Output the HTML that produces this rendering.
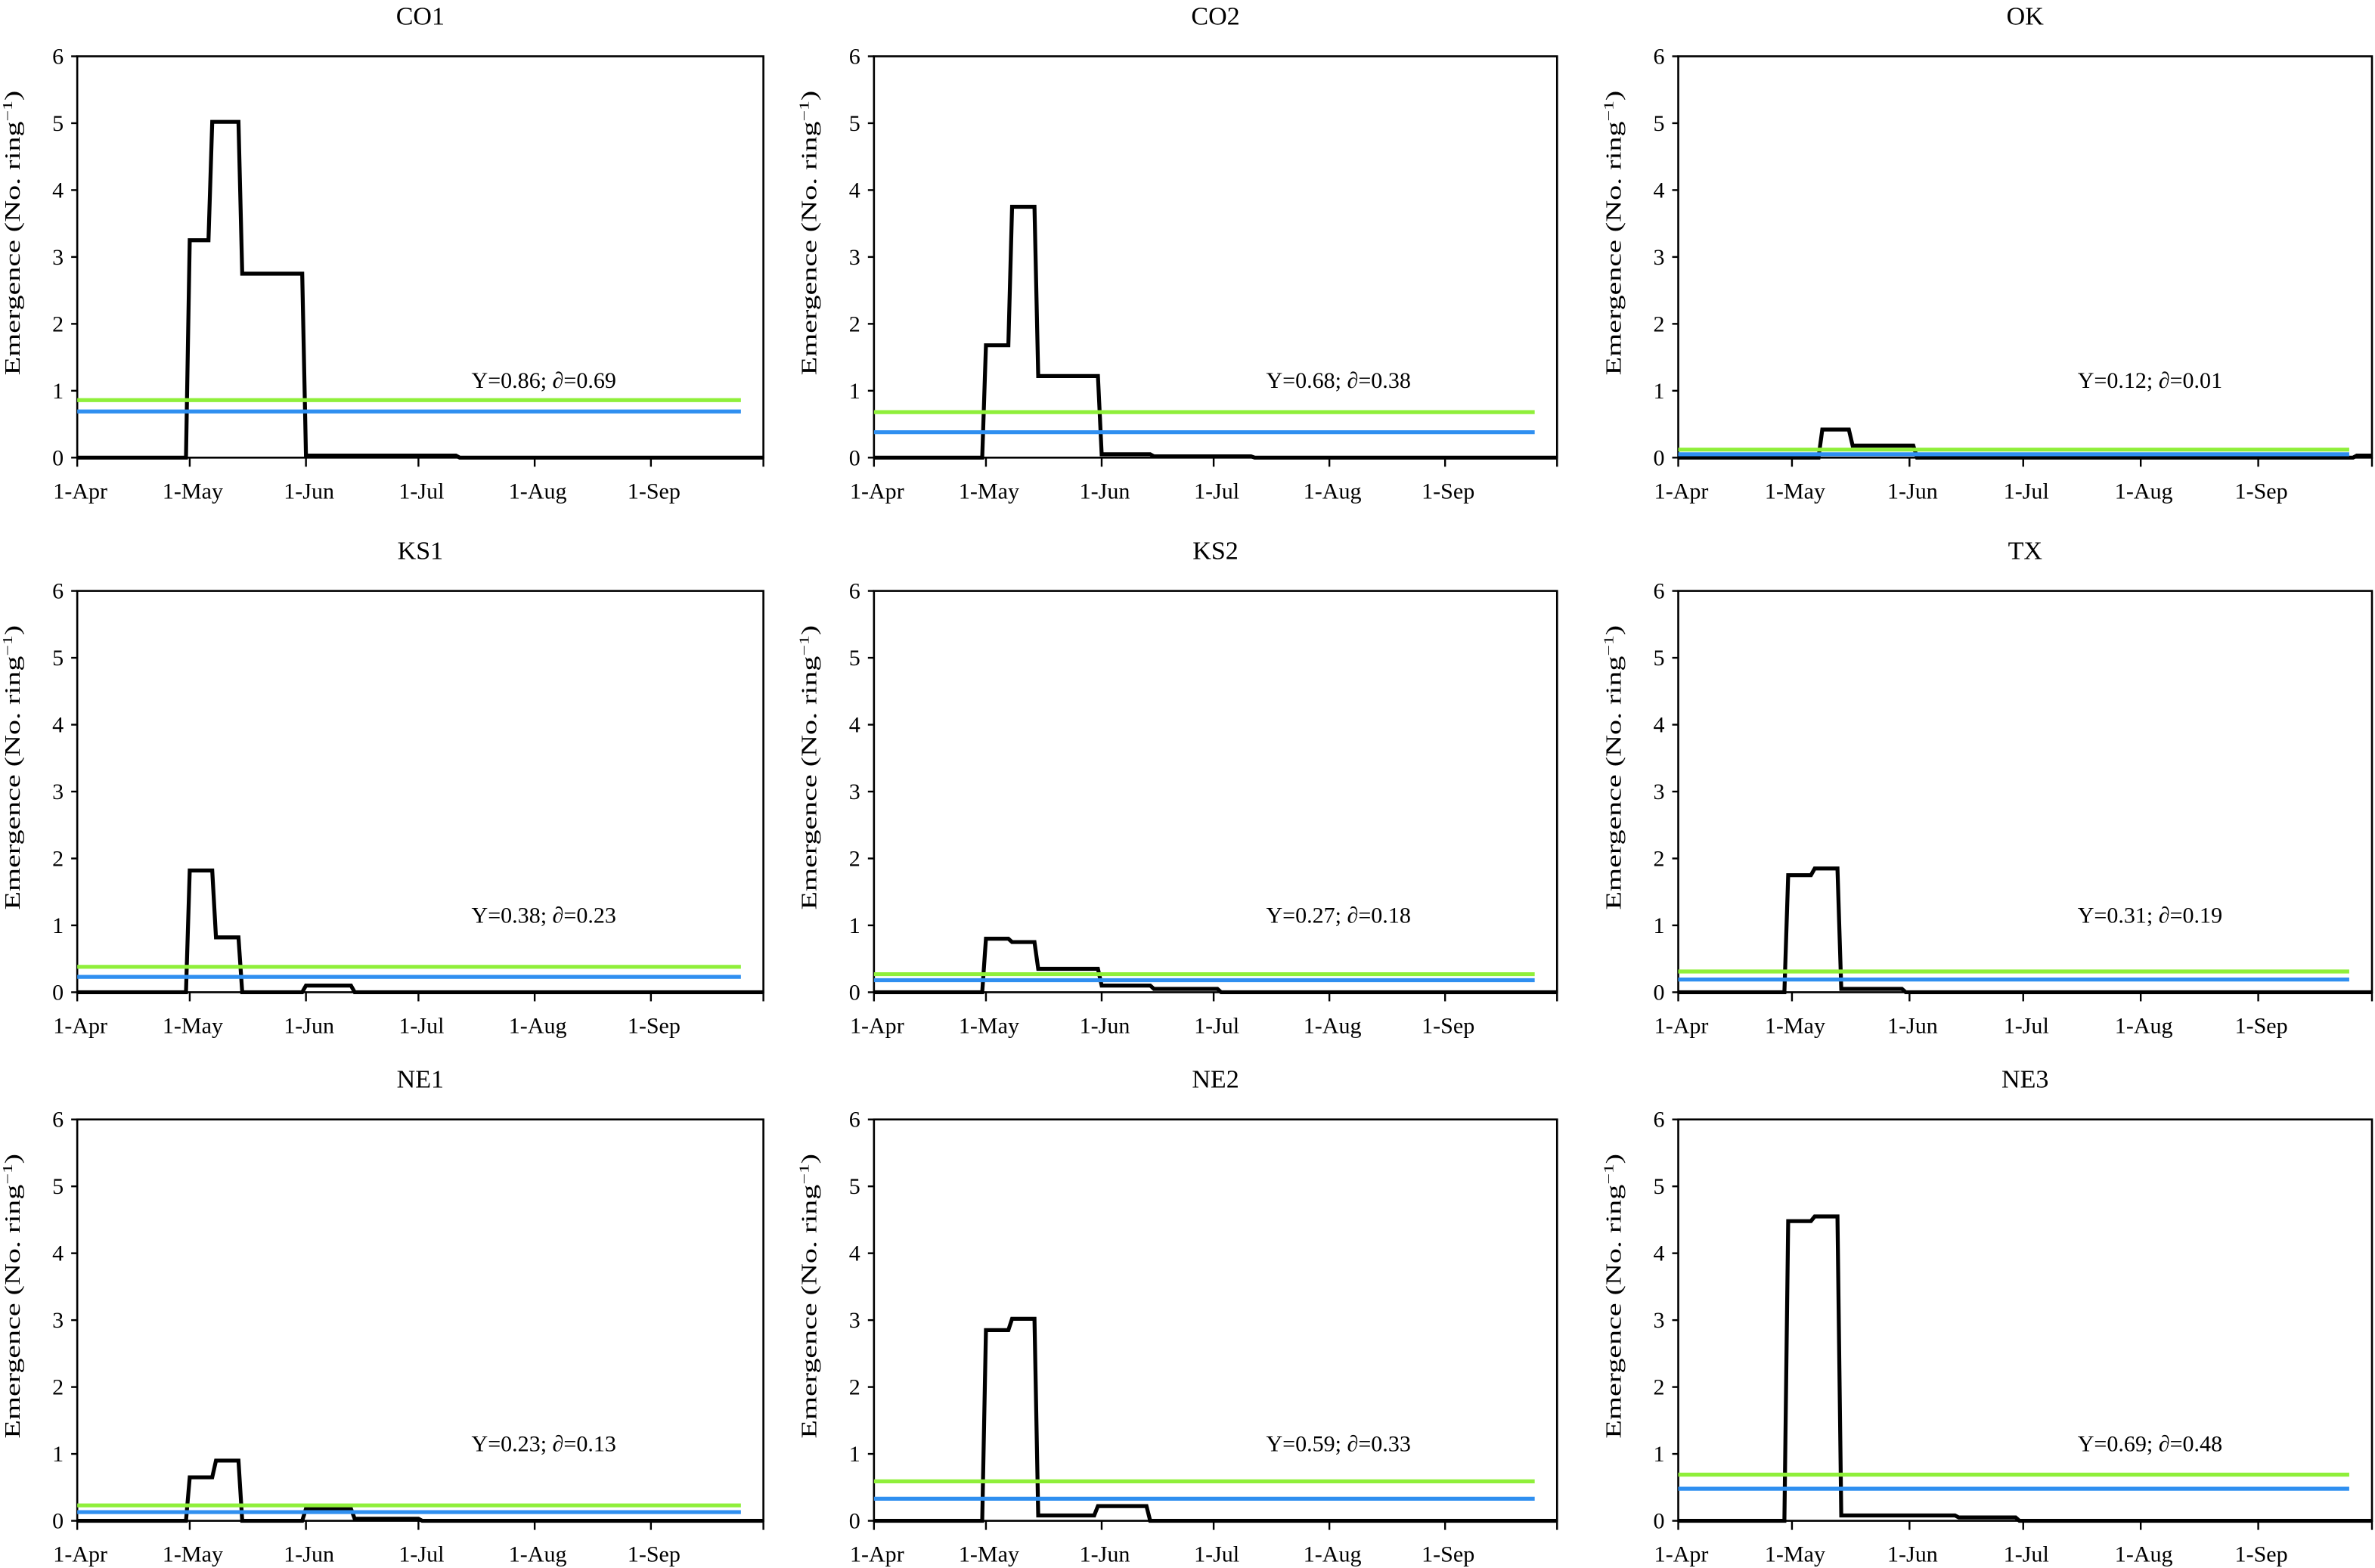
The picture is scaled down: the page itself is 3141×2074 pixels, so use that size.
<!DOCTYPE html>
<html><head><meta charset="utf-8"><style>
html,body{margin:0;padding:0;background:#fff;}
svg{display:block;}
text{font-family:"Liberation Serif",serif;fill:#000;}
</style></head><body>
<svg id="fig" width="3141" height="2074" viewBox="0 0 1568 1035" xmlns="http://www.w3.org/2000/svg"></svg>
<script>
// Panel names and statistics
const panelNames = ["CO1","CO2","OK","KS1","KS2","TX","NE1","NE2","NE3"];
const yValues = [0.86,0.68,0.12,0.38,0.27,0.31,0.23,0.59,0.69];
const dValues = [0.69,0.38,0.01,0.23,0.18,0.19,0.13,0.33,0.48];
const yLabels = ["Y=0.86; \u2202=0.69","Y=0.68; \u2202=0.38","Y=0.12; \u2202=0.01","Y=0.38; \u2202=0.23","Y=0.27; \u2202=0.18","Y=0.31; \u2202=0.19","Y=0.23; \u2202=0.13","Y=0.59; \u2202=0.33","Y=0.69; \u2202=0.48"];
// Step series: day (since 1-Apr) where step begins, and value of step
const stepDaysCO1 = [29,35,43,60,101];
const stepValsCO1 = [3.25,5.02,2.75,0.03,0];
const stepDaysCO2 = [29,36,43,60,74,101];
const stepValsCO2 = [1.68,3.75,1.22,0.05,0.02,0];
const stepDaysOK = [37,45,62,178];
const stepValsOK = [0.42,0.18,0,0.03];
const stepDaysKS1 = [29,36,43,60,73];
const stepValsKS1 = [1.82,0.82,0,0.1,0];
const stepDaysKS2 = [29,36,43,60,74,92];
const stepValsKS2 = [0.8,0.75,0.35,0.1,0.05,0];
const stepDaysTX = [28,35,42,59];
const stepValsTX = [1.75,1.85,0.05,0];
const stepDaysNE1 = [29,36,43,60,73,91];
const stepValsNE1 = [0.65,0.9,0,0.18,0.03,0];
const stepDaysNE2 = [29,36,43,59,73];
const stepValsNE2 = [2.85,3.02,0.08,0.22,0];
const stepDaysNE3 = [28,35,42,73,89];
const stepValsNE3 = [4.48,4.55,0.08,0.05,0];
const stepDays = [stepDaysCO1,stepDaysCO2,stepDaysOK,stepDaysKS1,stepDaysKS2,stepDaysTX,stepDaysNE1,stepDaysNE2,stepDaysNE3];
const stepVals = [stepValsCO1,stepValsCO2,stepValsOK,stepValsKS1,stepValsKS2,stepValsTX,stepValsNE1,stepValsNE2,stepValsNE3];
const monthLabels = ["1-Apr","1-May","1-Jun","1-Jul","1-Aug","1-Sep"];
const monthDays = [0,30,61,91,122,153];
const yTicks = [0,1,2,3,4,5,6];

const colLeft=[51,577,1108], colRight=[504,1028,1566];
const rowTop=[37,390,739], rowBottom=[302,655,1004];
const NS="http://www.w3.org/2000/svg";
const svg=document.getElementById('fig');
function mk(tag,attrs,parent){const e=document.createElementNS(NS,tag);for(const k in attrs)e.setAttribute(k,attrs[k]);(parent||svg).appendChild(e);return e;}

panelNames.forEach((name,i)=>{
  const c=i%3,r=Math.floor(i/3);
  const L=colLeft[c],R=colRight[c],T=rowTop[r],B=rowBottom[r];
  const x=d=>L+(R-L)*d/183;
  const y=v=>B-(B-T)*v/6;
  const g=mk('g',{});
  
  
  const t=mk('text',{x:(L+R)/2,y:T-21,'text-anchor':'middle','font-size':17},g);
  t.textContent=name;
  
  
  const fr=mk('rect',{x:L,y:T,width:R-L,height:B-T,fill:'none',stroke:'#000','stroke-width':1.3},g);
  
  
  yTicks.forEach(v=>{
    mk('line',{x1:L-4,x2:L,y1:y(v),y2:y(v),stroke:'#000','stroke-width':1.2},g);
    const tl=mk('text',{x:L-9,y:y(v)+5,'text-anchor':'end','font-size':15},g);
    tl.textContent=v;
    
    
  });
  monthDays.forEach((d,k)=>{
    mk('line',{x1:x(d),x2:x(d),y1:B,y2:B+6,stroke:'#000','stroke-width':1.2},g);
    const tl=mk('text',{x:x(d)+2,y:B+27,'text-anchor':'middle','font-size':15},g);
    tl.textContent=monthLabels[k];
    
    
  });
  mk('line',{x1:R,x2:R,y1:B,y2:B+6,stroke:'#000','stroke-width':1.2},g);
  const yl=mk('text',{x:0,y:0,'text-anchor':'middle','font-size':14,textLength:188,lengthAdjust:'spacingAndGlyphs',transform:`translate(${L-38},${T+(B-T)*0.44}) rotate(-90)`},g);
  yl.textContent='Emergence (No. ring';
  const sup=mk('tspan',{dy:-5,'font-size':9},yl);sup.textContent='\u22121';
  const cl=mk('tspan',{dy:5},yl);cl.textContent=')';
  
  
  // black step series
  const ds=stepDays[i],vs=stepVals[i];
  let p=`M${x(0)},${y(0)}`,prev=0;
  ds.forEach((d,k)=>{p+=` L${x(d)},${y(prev)} L${x(d+1)},${y(vs[k])}`;prev=vs[k];});
  p+=` L${x(183)},${y(prev)}`;
  const sl=mk('path',{d:p,fill:'none',stroke:'#000','stroke-width':2.6,'stroke-linejoin':'miter'},g);
  
  
  const gl=mk('line',{x1:x(0),x2:x(177),y1:y(yValues[i]),y2:y(yValues[i]),stroke:'#8fef3a','stroke-width':2.6},g);
  
  
  const bl=mk('line',{x1:x(0),x2:x(177),y1:y(Math.max(dValues[i],0.05)),y2:y(Math.max(dValues[i],0.05)),stroke:'#2f8ff0','stroke-width':2.6},g);
  
  
  const an=mk('text',{x:L+(R-L)*0.68,y:B-46,'text-anchor':'middle','font-size':15},g);
  an.textContent=yLabels[i];
  
  
});
</script>
</body></html>
